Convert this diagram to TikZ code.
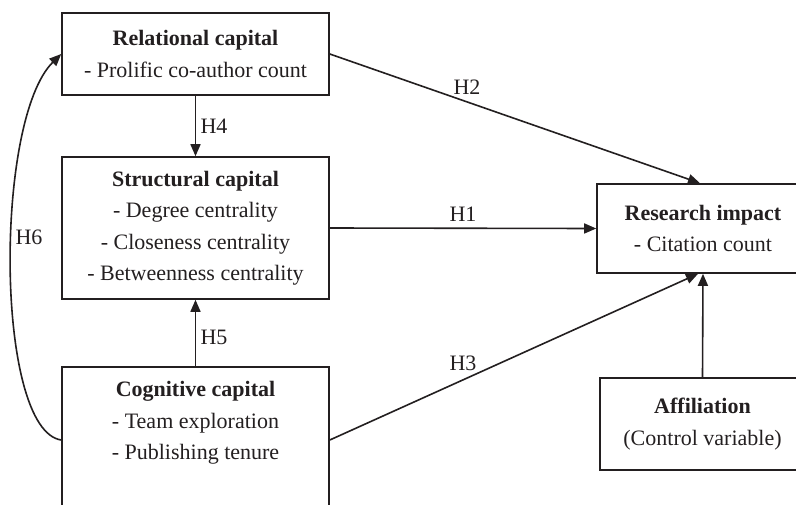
\documentclass[tikz,border=0pt]{standalone}
\usepackage{fontspec}
\setmainfont{Liberation Serif}
\usetikzlibrary{arrows.meta}
\definecolor{ink}{HTML}{231F20}
\tikzset{
  box/.style={draw=ink, line width=1.6pt, rectangle, inner sep=0pt, align=center, text=ink,
    font=\fontsize{22}{31.5}\selectfont},
  txt/.style={inner sep=0pt, align=center, text=ink, font=\fontsize{22}{31.5}\selectfont},
  lab/.style={inner sep=0pt, text=ink, font=\fontsize{22}{24}\selectfont},
  conn/.style={draw=ink, line width=1.6pt, -{Triangle[length=12pt,width=10pt]}}
}
\begin{document}
\begin{tikzpicture}[x=1pt,y=-1pt]
\useasboundingbox (0,0) rectangle (796,504);
\clip (0,0) rectangle (796,504);
\fill[white] (0,0) rectangle (796,504);
% boxes
\node[box, minimum width=267pt, minimum height=82pt] (rel) at (195.5,54)
  {\textbf{Relational capital}\\- Prolific co-author count};
\node[box, minimum width=267pt, minimum height=142pt] (str) at (195.5,228)
  {\textbf{Structural capital}\\- Degree centrality\\- Closeness centrality\\- Betweenness centrality};
\node[box, minimum width=267pt, minimum height=146pt] (cog) at (195.5,440) {};
\node[txt] (cogt) at (195.5,423)
  {\textbf{Cognitive capital}\\- Team exploration\\- Publishing tenure};
\node[box, minimum width=212pt, minimum height=89pt] (res) at (703,228.5)
  {\textbf{Research impact}\\- Citation count};
\node[box, minimum width=205pt, minimum height=92pt] (aff) at (702.5,424)
  {\textbf{Affiliation}\\(Control variable)};
% connectors
\draw[conn] (rel) -- (str);
\draw[conn] (cog) -- (str);
\draw[conn] (str.east) -- (res.west);
\draw[conn] (rel.east) -- ([xshift=-3pt]res.north);
\draw[conn] (cog.east) -- ([xshift=-5pt]res.south);
\draw[conn] (aff.north) -- (res.south);
\draw[conn] (cog.west) .. controls (-5,430) and (-6,120) .. (rel.west);
% labels
\node[lab] (h4) at (214,126) {H4};
\node[lab] (h5) at (214,337) {H5};
\node[lab] (h1) at (463,214) {H1};
\node[lab] (h2) at (467,87) {H2};
\node[lab] (h3) at (463,363) {H3};
\node[lab] (h6) at (29,237) {H6};
\end{tikzpicture}
\end{document}
